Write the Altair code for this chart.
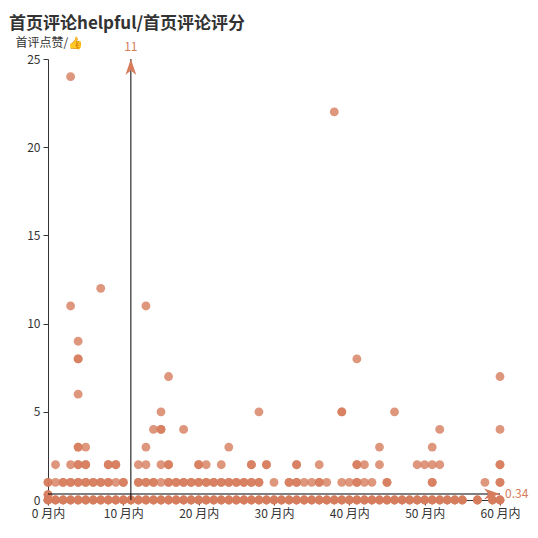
import altair as alt
import pandas as pd

# ---- text ----
title_text = "首页评论helpful/首页评论评分"
y_title = "首评点赞/👍"
x_ticks = [0, 10, 20, 30, 40, 50, 60]
y_ticks = [0, 5, 10, 15, 20, 25]
x_max = 60
y_max = 25

# ---- mark lines (averages) ----
avg_month = 11
avg_helpful = 0.34

# ---- scatter data, row by row: helpful value, months with one point, months with overlapping points ----
row_helpful = [0, 0.3, 1, 2, 3, 4, 5, 6, 7, 8, 9, 11, 12, 22, 24]
row_single = [
    [],
    [],
    [1, 9, 15, 30, 34, 35, 37, 39, 40, 42, 43, 58],
    [1, 3, 12, 13, 15, 21, 23, 36, 42, 44, 49, 50, 51, 52],
    [5, 13, 24, 44, 51],
    [14, 18, 52, 60],
    [15, 28, 46],
    [4],
    [16, 60],
    [41],
    [4],
    [3, 13],
    [7],
    [38],
    [3],
]
row_multi = [
    [0, 1, 2, 3, 4, 5, 6, 7, 8, 9, 10, 11, 12, 13, 14, 15, 16, 17, 18, 19, 20,
     21, 22, 23, 24, 25, 26, 27, 28, 29, 30, 31, 32, 33, 34, 35, 36, 37, 38, 39,
     40, 41, 42, 43, 44, 45, 46, 47, 48, 49, 50, 51, 52, 53, 54, 55, 57, 59, 60],
    [0],
    [0, 2, 3, 4, 5, 6, 7, 8, 10, 12, 13, 14, 16, 17, 18, 19, 20, 21, 22, 23, 24,
     25, 26, 27, 28, 32, 33, 36, 41, 45, 51, 60],
    [4, 5, 8, 9, 16, 20, 27, 29, 33, 41, 60],
    [4],
    [15],
    [39],
    [],
    [],
    [4],
    [],
    [],
    [],
    [],
    [],
]
row_multi_count = [3, 2, 2, 2, 2, 2, 2, 2, 2, 2, 2, 2, 2, 2, 2]

records = []
for yv, singles, multis, cnt in zip(row_helpful, row_single, row_multi, row_multi_count):
    for m in singles:
        records.append({"month": m, "helpful": yv})
    for m in multis:
        for _ in range(cnt):
            records.append({"month": m, "helpful": yv})
df = pd.DataFrame(records)

base_color = "#d67c5c"
ink = "#333333"
font = "Noto Sans CJK SC"

x_scale = alt.Scale(domain=[0, x_max], nice=False, zero=True)
y_scale = alt.Scale(domain=[0, y_max], nice=False, zero=True)

x_axis = alt.Axis(values=x_ticks, labelExpr="datum.value + ' 月内'", title=None,
                  grid=False, domainColor=ink, tickColor=ink, labelColor=ink,
                  tickSize=5, labelPadding=3, labelFont=font, labelFontSize=12,
                  labelFlush=False, labelOverlap=False)
y_axis = alt.Axis(values=y_ticks, title=y_title, titleAngle=0, titleX=-33, titleY=-13,
                  titleAlign="left", titleBaseline="alphabetic", titleFont=font,
                  titleFontSize=12, titleFontWeight="normal", titleColor=ink,
                  grid=False, domainColor=ink, tickColor=ink, labelColor=ink,
                  tickSize=5, labelPadding=3, labelFont=font, labelFontSize=12,
                  labelFlush=False, labelOverlap=False)


def X(field):
    return alt.X(field, type="quantitative", scale=x_scale, axis=x_axis)


def Y(field):
    return alt.Y(field, type="quantitative", scale=y_scale, axis=y_axis)


points = alt.Chart(df).mark_circle(size=78, opacity=0.8, color=base_color).encode(
    x=X("month"), y=Y("helpful")
)

vline_df = pd.DataFrame({"month": [avg_month], "y0": [0], "y1": [y_max],
                         "label": [str(avg_month)]})
hline_df = pd.DataFrame({"x0": [0], "x1": [x_max], "helpful": [avg_helpful],
                         "label": [str(avg_helpful)]})

rule_v = alt.Chart(vline_df).mark_rule(color="#000000", strokeWidth=1).encode(
    x=X("month"), y=Y("y0"), y2="y1"
)
rule_h = alt.Chart(hline_df).mark_rule(color="#000000", strokeWidth=1).encode(
    x=X("x0"), x2="x1", y=Y("helpful")
)

arrow_path = "M0,0 L0.34,1 L0,0.72 L-0.34,1 Z"
arrow_v = alt.Chart(vline_df).mark_point(shape=arrow_path, filled=True, size=1024,
                                         color=base_color, opacity=1, angle=0).encode(
    x=X("month"), y=Y("y1")
)
arrow_h = alt.Chart(hline_df).mark_point(shape=arrow_path, filled=True, size=1024,
                                         color=base_color, opacity=1, angle=90).encode(
    x=X("x1"), y=Y("helpful")
)

label_v = alt.Chart(vline_df).mark_text(dy=-5, baseline="bottom", align="center",
                                        color=base_color, font=font, fontSize=12).encode(
    x=X("month"), y=Y("y1"), text="label:N"
)
label_h = alt.Chart(hline_df).mark_text(dx=5, baseline="middle", align="left",
                                        color=base_color, font=font, fontSize=12).encode(
    x=X("x1"), y=Y("helpful"), text="label:N"
)

chart = alt.layer(points, rule_v, rule_h, arrow_v, arrow_h, label_v, label_h).properties(
    width=452,
    height=441,
    title=alt.TitleParams(text=title_text, anchor="start", frame="group", dx=-39, dy=1,
                          font=font, fontSize=17, fontWeight="bold", color=ink),
    autosize=alt.AutoSizeParams(type="none"),
    padding={"left": 40, "top": 51, "right": 30, "bottom": 28},
    background="white",
).configure_view(strokeWidth=0)

chart.save("out.html", embed_options={"renderer": "svg", "actions": False})
